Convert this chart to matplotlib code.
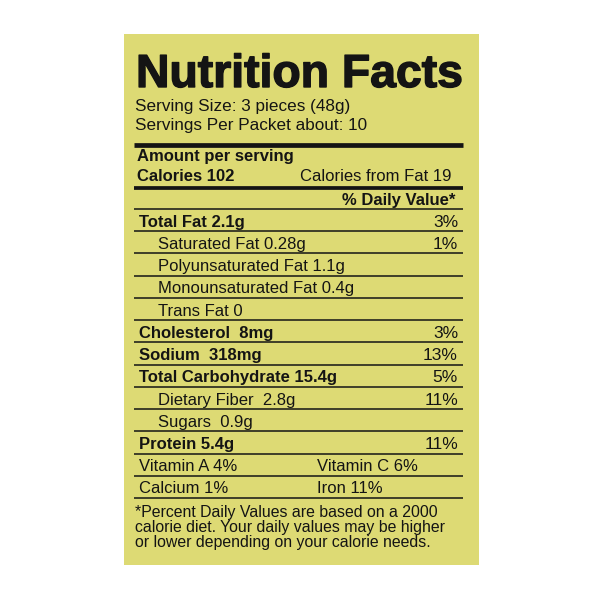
import matplotlib
matplotlib.use("Agg")
import matplotlib.pyplot as plt
import matplotlib.patheffects as pe
from matplotlib.patches import Rectangle

# label content
title = "Nutrition Facts"
serving_size = "Serving Size: 3 pieces (48g)"
servings_per = "Servings Per Packet about: 10"
calories = 102
calories_fat = 19

nutrients = ["Total Fat", "Saturated Fat", "Polyunsaturated Fat", "Monounsaturated Fat",
             "Trans Fat", "Cholesterol", "Sodium", "Total Carbohydrate",
             "Dietary Fiber", "Sugars", "Protein"]
amounts = ["2.1g", "0.28g", "1.1g", "0.4g", "0", "8mg", "318mg", "15.4g", "2.8g", "0.9g", "5.4g"]
daily_pct = [3, 1, None, None, None, 3, 13, 5, 11, None, 11]
indented = [False, True, True, True, True, False, False, False, True, True, False]
gaps = [" ", " ", " ", " ", " ", "  ", "  ", " ", "  ", "  ", " "]

vitamins = ["Vitamin A", "Vitamin C", "Calcium", "Iron"]
vitamin_pct = [4, 6, 1, 11]

footnote = ["*Percent Daily Values are based on a 2000",
            "calorie diet. Your daily values may be higher",
            "or lower depending on your calorie needs."]

BG = "#DDDA74"
INK = "#141414"
FONT = "Liberation Sans"

fig = plt.figure(figsize=(6, 6), dpi=100)
ax = fig.add_axes([0, 0, 1, 1])
ax.set_xlim(0, 600)
ax.set_ylim(600, 0)
ax.axis("off")

ax.add_patch(Rectangle((124, 34), 355, 531, facecolor=BG, edgecolor="none"))

left, right = 134, 463
pct_x = 458

# title, scaled to span the label width, stroked a bit to look heavier
t = ax.text(136, 87, title, fontsize=34, fontweight="bold", family=FONT,
            color=INK, va="baseline",
            path_effects=[pe.withStroke(linewidth=1.0, foreground=INK)])
fig.canvas.draw()
w = t.get_window_extent().width
t.set_fontsize(34 * (right - 136) / w)

ax.text(135, 111, serving_size, fontsize=12.3, family=FONT, color=INK, va="baseline")
ax.text(135, 130, servings_per, fontsize=12.3, family=FONT, color=INK, va="baseline")

ax.hlines(145, left, right, color=INK, lw=3.4)
ax.text(137, 161, "Amount per serving", fontsize=12, fontweight="bold", family=FONT,
        color=INK, va="baseline")
ax.text(137, 181, f"Calories {calories}", fontsize=12, fontweight="bold", family=FONT,
        color=INK, va="baseline")
ax.text(452, 181, f"Calories from Fat {calories_fat}", fontsize=12, family=FONT,
        color=INK, va="baseline", ha="right")
ax.hlines(187.5, left, right, color=INK, lw=2.7)
ax.text(455, 205, "% Daily Value*", fontsize=12, fontweight="bold", family=FONT,
        color=INK, va="baseline", ha="right")

step = 22.23
top_line = 209
ax.hlines(top_line, left, right, color=INK, lw=1.1)
for i, name in enumerate(nutrients):
    base = top_line + step * (i + 1) - 4.5
    x = 158 if indented[i] else 139
    weight = "normal" if indented[i] else "bold"
    ax.text(x, base, name + gaps[i] + amounts[i], fontsize=12, fontweight=weight,
            family=FONT, color=INK, va="baseline")
    if daily_pct[i] is not None:
        ax.text(pct_x, base, f"{daily_pct[i]}%", fontsize=12.5, family=FONT,
                color=INK, va="baseline", ha="right")
    ax.hlines(top_line + step * (i + 1), left, right, color=INK, lw=1.1)

n = len(nutrients)
for j in range(0, len(vitamins), 2):
    row = n + j // 2
    base = top_line + step * (row + 1) - 4.5
    ax.text(139, base, f"{vitamins[j]} {vitamin_pct[j]}%", fontsize=12, family=FONT,
            color=INK, va="baseline")
    ax.text(317, base, f"{vitamins[j + 1]} {vitamin_pct[j + 1]}%", fontsize=12,
            family=FONT, color=INK, va="baseline")
    ax.hlines(top_line + step * (row + 1), left, right, color=INK, lw=1.1)

for k, line in enumerate(footnote):
    ax.text(135, 517 + 15 * k, line, fontsize=11.4, family=FONT, color=INK,
            va="baseline")

fig.savefig("out.png", dpi=100, facecolor="white")
